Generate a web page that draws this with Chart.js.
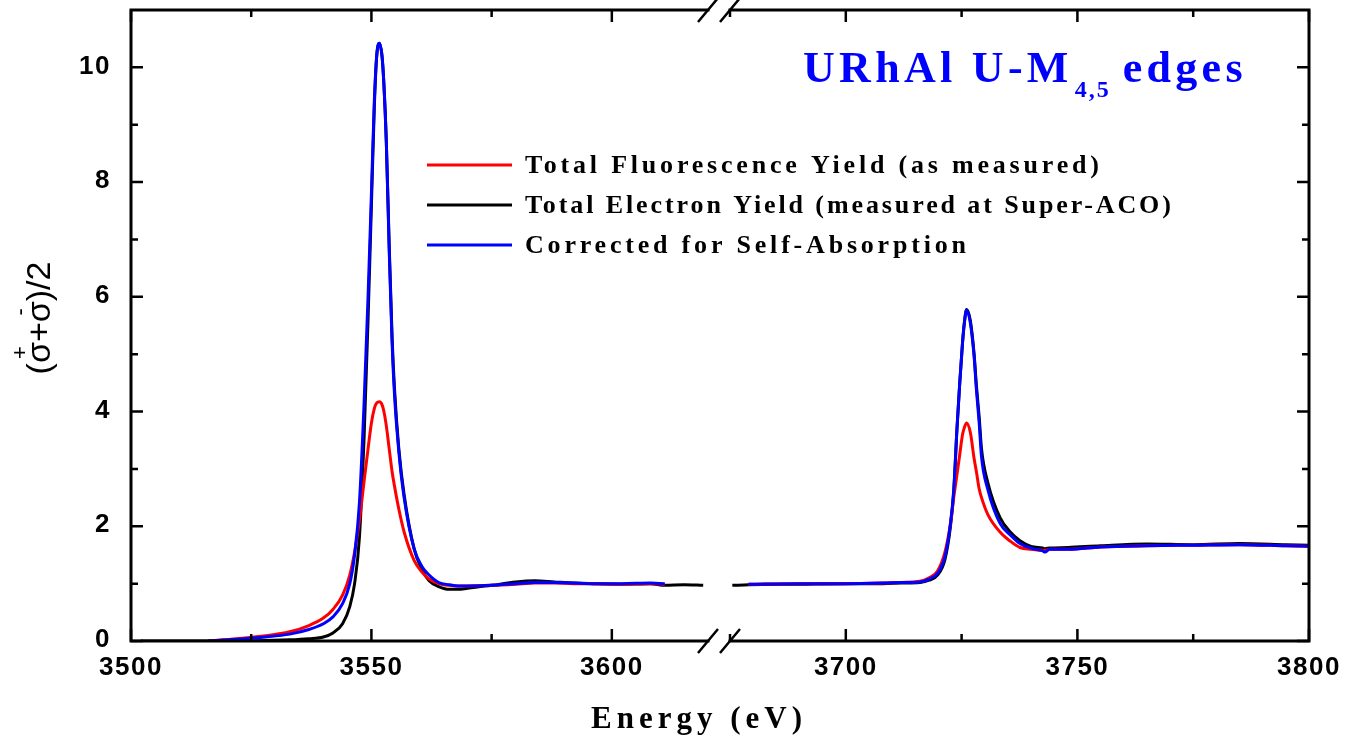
<!DOCTYPE html>
<html>
<head>
<meta charset="utf-8">
<script src="https://cdn.jsdelivr.net/npm/chart.js@4.4.1/dist/chart.umd.min.js"></script>
<style>
  html, body { margin: 0; padding: 0; background: #fff; }
  #wrap { width: 1348px; height: 737px; }
</style>
</head>
<body>
<div id="wrap"><canvas id="chart" width="1348" height="737"></canvas></div>
<script>
// left panel, 3500-3620 eV (M5 edge)
const energyLeft = [3502, 3508, 3516, 3522, 3528, 3533, 3537, 3540, 3542, 3544,
  3545.5, 3546.5, 3547.5, 3548.5, 3549.3, 3550, 3550.6, 3551.1, 3551.66, 3552.2,
  3552.6, 3553.1, 3553.7, 3554.3, 3554.8, 3555.7, 3556.8, 3558.9, 3560.5, 3562,
  3564, 3566.2, 3568, 3570, 3575, 3580, 3584, 3588, 3592, 3596,
  3602, 3608, 3611, 3615, 3619];
const tfyLeft = [null, null, 0.0, 0.04, 0.09, 0.16, 0.27, 0.4, 0.55, 0.8,
  1.15, 1.55, 2.1, 2.8, 3.35, 3.8, 4.05, 4.15, 4.17, 4.12,
  4.0, 3.75, 3.35, 2.95, 2.7, 2.3, 1.9, 1.4, 1.2, 1.08,
  1.0, 0.97, 0.96, 0.96, 0.97, 0.99, 1.01, 1.01, 1.0, 1.0,
  0.99, 1.0, 0.99, null, null];
const teyLeft = [0.0, 0.0, 0.0, 0.0, 0.01, 0.02, 0.04, 0.07, 0.14, 0.3,
  0.6, 1.0, 1.8, 3.6, 5.6, 7.6, 9.3, 10.2, 10.42, 10.2,
  9.7, 8.7, 6.9, 5.3, 4.4, 3.35, 2.55, 1.6, 1.25, 1.05,
  0.95, 0.9, 0.9, 0.92, 0.97, 1.03, 1.05, 1.03, 1.01, 1.0,
  0.99, 1.0, 0.97, 0.98, 0.97];
const corrLeft = [null, null, 0.0, 0.03, 0.07, 0.12, 0.2, 0.3, 0.42, 0.65,
  1.0, 1.5, 2.4, 4.2, 6.0, 7.8, 9.4, 10.2, 10.42, 10.2,
  9.7, 8.7, 6.8, 5.2, 4.3, 3.3, 2.5, 1.6, 1.3, 1.15,
  1.02, 0.98, 0.96, 0.96, 0.97, 1.0, 1.02, 1.02, 1.01, 1.0,
  1.0, 1.01, 1.0, null, null];

// right panel, 3675-3800 eV (M4 edge)
const energyRight = [3675.5, 3679, 3690, 3700, 3708, 3712, 3716, 3718, 3719.8, 3721.4,
  3722.6, 3723.3, 3724.0, 3724.6, 3725.2, 3725.6, 3726.07, 3726.9, 3727.7, 3728.2,
  3728.8, 3729.3, 3730.7, 3733.3, 3735.5, 3737.6, 3740, 3742.5, 3743, 3744,
  3748, 3755, 3765, 3775, 3785, 3795, 3800];
const tfyRight = [null, 0.99, 1.0, 1.0, 1.01, 1.02, 1.04, 1.1, 1.22, 1.55,
  2.05, 2.5, 2.9, 3.25, 3.6, 3.72, 3.8, 3.63, 3.18, 2.95,
  2.65, 2.5, 2.2, 1.9, 1.74, 1.63, 1.6, 1.58, 1.58, 1.6,
  1.6, 1.64, 1.66, 1.67, 1.68, 1.66, 1.65];
const teyRight = [0.97, 0.98, 0.99, 1.0, 1.0, 1.01, 1.02, 1.06, 1.15, 1.42,
  2.0, 2.6, 3.7, 4.5, 5.2, 5.55, 5.78, 5.58, 5.0, 4.45,
  3.9, 3.35, 2.75, 2.15, 1.9, 1.75, 1.65, 1.62, 1.61, 1.62,
  1.63, 1.66, 1.69, 1.68, 1.7, 1.68, 1.67];
const corrRight = [null, 0.99, 1.0, 1.0, 1.01, 1.02, 1.03, 1.08, 1.18, 1.47,
  2.05, 2.63, 3.7, 4.5, 5.2, 5.55, 5.77, 5.54, 4.96, 4.38,
  3.8, 3.21, 2.63, 2.05, 1.85, 1.7, 1.62, 1.57, 1.55, 1.6,
  1.6, 1.64, 1.66, 1.67, 1.68, 1.66, 1.65];

const xTicksLeft = [3500, 3550, 3600];
const xTicksRight = [3700, 3750, 3800];
const xMinorLeft = [3525, 3575];
const xMinorRight = [3675, 3725, 3775];
const yTicks = [0, 2, 4, 6, 8, 10];
const yMinor = [1, 3, 5, 7, 9];

const seriesNames = [
  'Total Fluorescence Yield (as measured)',
  'Total Electron Yield (measured at Super-ACO)',
  'Corrected for Self-Absorption'
];
const seriesColors = ['#ff0000', '#000000', '#0000ff'];

const pts = (xs, ys) => xs.map((x, i) => ({ x, y: ys[i] }));

function line(data, color, axis, order) {
  return {
    data, xAxisID: axis, yAxisID: 'y',
    borderColor: color, borderWidth: 3,
    pointRadius: 0, fill: false, spanGaps: false,
    cubicInterpolationMode: 'monotone', order
  };
}

const hidden = {
  grid: { display: false },
  border: { display: false },
  ticks: { display: false }
};

const SANS = '"Liberation Sans", Arial, sans-serif';
const SERIF = '"Liberation Serif", "Times New Roman", serif';

// frame, inward ticks, axis break, labels, legend and title
const decor = {
  id: 'decor',
  afterDraw(chart) {
    const { ctx, chartArea: a, scales } = chart;
    const xl = scales.xL, xr = scales.xR, y = scales.y;
    ctx.save();
    ctx.strokeStyle = '#000';
    ctx.fillStyle = '#000';

    // frame
    ctx.lineWidth = 3;
    ctx.lineCap = 'square';
    ctx.beginPath();
    ctx.moveTo(a.left, a.top); ctx.lineTo(a.left, a.bottom);
    ctx.moveTo(a.right, a.top); ctx.lineTo(a.right, a.bottom);
    for (const yy of [a.top, a.bottom]) {
      ctx.moveTo(xl.left, yy); ctx.lineTo(xl.right, yy);
      ctx.moveTo(xr.left, yy); ctx.lineTo(xr.right, yy);
    }
    ctx.stroke();

    // break marks
    ctx.lineWidth = 2.5;
    ctx.lineCap = 'butt';
    ctx.beginPath();
    for (const xx of [xl.right, xr.left]) {
      for (const yy of [a.top, a.bottom]) {
        ctx.moveTo(xx - 10, yy + 12); ctx.lineTo(xx + 10, yy - 12);
      }
    }
    ctx.stroke();

    // ticks
    ctx.lineWidth = 2.5;
    ctx.beginPath();
    const xTick = (scale, v, len) => {
      const px = scale.getPixelForValue(v);
      ctx.moveTo(px, a.bottom); ctx.lineTo(px, a.bottom - len);
      ctx.moveTo(px, a.top); ctx.lineTo(px, a.top + len);
    };
    xTicksLeft.forEach(v => xTick(xl, v, 12));
    xTicksRight.forEach(v => xTick(xr, v, 12));
    xMinorLeft.forEach(v => xTick(xl, v, 7));
    xMinorRight.forEach(v => xTick(xr, v, 7));
    const yTick = (v, len) => {
      const py = y.getPixelForValue(v);
      ctx.moveTo(a.left, py); ctx.lineTo(a.left + len, py);
      ctx.moveTo(a.right, py); ctx.lineTo(a.right - len, py);
    };
    yTicks.forEach(v => yTick(v, 12));
    yMinor.forEach(v => yTick(v, 7));
    ctx.stroke();

    // tick labels
    ctx.font = 'bold 26px ' + SANS;
    ctx.letterSpacing = '1.5px';
    ctx.textAlign = 'center';
    ctx.textBaseline = 'alphabetic';
    xTicksLeft.forEach(v => ctx.fillText(String(v), xl.getPixelForValue(v), 675));
    xTicksRight.forEach(v => ctx.fillText(String(v), xr.getPixelForValue(v), 675));
    ctx.textAlign = 'right';
    ctx.textBaseline = 'middle';
    yTicks.forEach(v => ctx.fillText(String(v), 111, y.getPixelForValue(v) - 1));

    // x title
    ctx.font = 'bold 31px ' + SERIF;
    ctx.letterSpacing = '5px';
    ctx.textAlign = 'center';
    ctx.textBaseline = 'alphabetic';
    ctx.fillText('Energy (eV)', 699, 728);

    // y title: (σ+σ)/2 with + and - over the sigmas
    ctx.letterSpacing = '0px';
    ctx.translate(41, 318);
    ctx.rotate(-Math.PI / 2);
    ctx.font = '34px ' + SANS;
    ctx.textAlign = 'left';
    ctx.textBaseline = 'middle';
    const parts = ['(', 'σ', '+', 'σ', ')/2'];
    const w = parts.map(p => ctx.measureText(p).width);
    let px = -w.reduce((s, v) => s + v, 0) / 2;
    parts.forEach((p, i) => {
      ctx.font = '34px ' + SANS;
      ctx.fillText(p, px, 0);
      if (i === 1 || i === 3) {
        ctx.font = '22px ' + SANS;
        const s = i === 1 ? '+' : '-';
        ctx.fillText(s, px + w[i] / 2 - ctx.measureText(s).width / 2, -20);
      }
      px += w[i];
    });
    ctx.setTransform(1, 0, 0, 1, 0, 0);

    // legend
    const rows = [165, 205, 245];
    const spacing = ['3.8px', '2.9px', '3.8px'];
    seriesNames.forEach((name, i) => {
      ctx.strokeStyle = seriesColors[i];
      ctx.lineWidth = 3;
      ctx.beginPath();
      ctx.moveTo(427, rows[i]); ctx.lineTo(512, rows[i]);
      ctx.stroke();
      ctx.fillStyle = '#000';
      ctx.font = 'bold 26px ' + SERIF;
      ctx.letterSpacing = spacing[i];
      ctx.textAlign = 'left';
      ctx.textBaseline = 'middle';
      ctx.fillText(name, 525, rows[i] + 1);
    });

    // title
    ctx.fillStyle = '#0000ff';
    ctx.textBaseline = 'alphabetic';
    ctx.font = 'bold 44px ' + SERIF;
    ctx.letterSpacing = '4.3px';
    let tx = 803;
    ctx.fillText('URhAl U-M', tx, 82);
    tx += ctx.measureText('URhAl U-M').width;
    ctx.font = 'bold 24px ' + SERIF;
    ctx.letterSpacing = '2px';
    ctx.fillText('4,5', tx + 2, 97);
    tx += ctx.measureText('4,5').width + 14;
    ctx.font = 'bold 44px ' + SERIF;
    ctx.letterSpacing = '4.3px';
    ctx.fillText('edges', tx, 82);
    ctx.restore();
  }
};

new Chart(document.getElementById('chart'), {
  type: 'line',
  data: {
    datasets: [
      line(pts(energyLeft, teyLeft), seriesColors[1], 'xL', 2),
      line(pts(energyLeft, tfyLeft), seriesColors[0], 'xL', 1),
      line(pts(energyLeft, corrLeft), seriesColors[2], 'xL', 0),
      line(pts(energyRight, teyRight), seriesColors[1], 'xR', 2),
      line(pts(energyRight, tfyRight), seriesColors[0], 'xR', 1),
      line(pts(energyRight, corrRight), seriesColors[2], 'xR', 0)
    ]
  },
  options: {
    responsive: false,
    animation: false,
    devicePixelRatio: 1,
    layout: { padding: { left: 0, right: 39, top: 10, bottom: 0 } },
    plugins: { legend: { display: false }, tooltip: { enabled: false } },
    scales: {
      xL: { type: 'linear', position: 'bottom', stack: 'energy', stackWeight: 577, min: 3500, max: 3620,
            ...hidden, afterFit: s => { s.height = 96; } },
      xGap: { type: 'linear', position: 'bottom', stack: 'energy', stackWeight: 22, min: 0, max: 1,
            ...hidden, afterFit: s => { s.height = 96; } },
      xR: { type: 'linear', position: 'bottom', stack: 'energy', stackWeight: 579, min: 3675, max: 3800,
            ...hidden, afterFit: s => { s.height = 96; } },
      y: { type: 'linear', position: 'left', min: 0, max: 11,
           ...hidden, afterFit: s => { s.width = 131; } }
    }
  },
  plugins: [decor]
});
</script>
</body>
</html>
